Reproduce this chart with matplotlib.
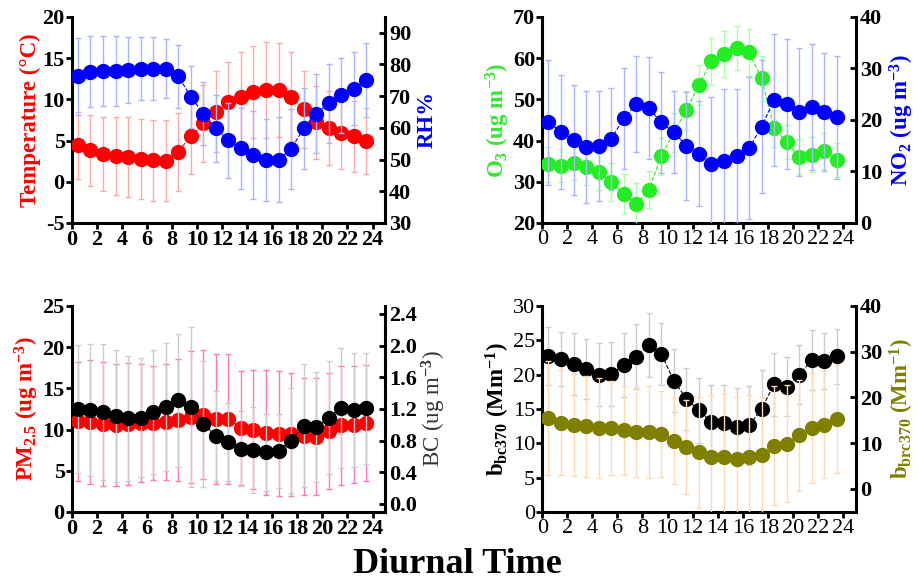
#!/usr/bin/env python3
# -*- coding: utf-8 -*-
"""Diurnal cycles: T/RH, O3/NO2, PM2.5/BC, b_bc370/b_brc370 (4 panels, twin axes)."""

import numpy as np
import matplotlib
matplotlib.use("Agg")
import matplotlib.pyplot as plt
from matplotlib.ticker import MultipleLocator

plt.rcParams["font.family"] = ["Liberation Serif", "DejaVu Serif"]
plt.rcParams["font.weight"] = "bold"
plt.rcParams["axes.labelweight"] = "bold"
plt.rcParams["axes.unicode_minus"] = False
plt.rcParams["mathtext.fontset"] = "custom"
plt.rcParams["mathtext.rm"] = "Liberation Serif:bold"
plt.rcParams["mathtext.it"] = "Liberation Serif:bold"
plt.rcParams["mathtext.bf"] = "Liberation Serif:bold"

# hora (centro del intervalo)
hours = np.arange(24) + 0.5

# --- panel a: temperatura / humedad relativa
temp = [4.4, 3.8, 3.4, 3.1, 3.0, 2.75, 2.6, 2.55, 3.6, 5.6, 7.1, 8.5,
        9.65, 10.3, 10.9, 11.15, 11.1, 10.3, 8.8, 7.2, 6.5, 5.9, 5.5, 4.9]
temp_sd = [4.1, 4.3, 4.5, 4.7, 4.8, 4.9, 4.9, 4.9, 4.7, 4.7, 4.7, 4.9,
           4.9, 5.4, 5.6, 5.8, 5.7, 5.4, 4.7, 4.4, 4.5, 4.4, 4.3, 4.0]
rh = [76.3, 77.7, 77.9, 77.9, 78.2, 78.7, 78.7, 78.7, 76.3, 69.8, 64.5, 59.8,
      56.1, 53.5, 51.4, 49.8, 50.0, 53.3, 59.8, 64.5, 67.7, 70.3, 72.4, 75.1]
rh_sd = [12.2, 11.2, 11.0, 11.0, 10.5, 10.0, 10.0, 9.3, 10.0, 9.7, 10.0, 10.5,
         11.8, 12.7, 13.9, 13.0, 13.5, 12.6, 12.9, 12.5, 12.4, 11.9, 11.4, 11.8]

# --- panel b: O3 / NO2
o3 = [34.2, 33.9, 34.6, 33.5, 32.4, 30.0, 27.0, 24.7, 28.0, 36.2, 42.0, 47.3,
      53.5, 59.2, 61.1, 62.5, 61.4, 55.1, 43.0, 39.6, 36.1, 36.6, 37.5, 35.3]
o3_sd = [4.2, 4.0, 4.2, 4.2, 4.3, 4.6, 4.8, 4.9, 4.5, 4.5, 4.8, 4.8,
         4.9, 5.7, 5.6, 5.4, 5.7, 5.5, 4.5, 4.2, 4.2, 4.2, 4.3, 4.2]
no2 = [19.5, 17.7, 16.1, 14.8, 15.0, 16.3, 20.3, 23.1, 22.3, 19.5, 17.6, 15.0,
       13.4, 11.4, 12.0, 12.9, 14.5, 18.7, 23.9, 23.1, 21.6, 22.5, 21.5, 20.5]
no2_sd = [12.2, 11.1, 10.7, 10.9, 10.7, 9.9, 9.8, 9.4, 9.9, 9.9, 8.0, 10.5,
          10.2, 13.0, 14.0, 13.2, 13.8, 12.9, 12.8, 12.6, 12.4, 12.2, 11.5, 12.0]

# --- panel c: PM2.5 / BC
pm25 = [11.0, 10.9, 10.7, 10.6, 10.7, 10.8, 10.8, 10.9, 11.2, 11.5, 11.8, 11.3,
        11.3, 10.2, 10.0, 9.6, 9.5, 9.4, 9.2, 9.1, 9.8, 10.5, 10.6, 10.8]
pm25_sd = [7.2, 7.5, 7.5, 7.4, 7.4, 7.2, 6.9, 7.0, 7.4, 8.0, 7.8, 7.9,
           7.9, 6.9, 7.2, 7.6, 7.6, 7.5, 7.1, 7.1, 7.0, 7.2, 7.1, 7.0]
bc = [1.20, 1.185, 1.16, 1.11, 1.08, 1.09, 1.16, 1.22, 1.31, 1.23, 1.01, 0.86,
      0.78, 0.70, 0.68, 0.65, 0.67, 0.80, 0.99, 0.97, 1.09, 1.21, 1.185, 1.21]
bc_sd = [0.81, 0.83, 0.86, 0.83, 0.79, 0.75, 0.78, 0.81, 0.84, 1.01, 0.80, 0.57,
         0.49, 0.47, 0.54, 0.49, 0.47, 0.66, 0.78, 0.69, 0.71, 0.76, 0.72, 0.70]

# --- panel d: b_bc370 / b_brc370
bbc = [22.7, 22.3, 21.6, 20.8, 20.0, 20.1, 21.4, 22.6, 24.3, 23.0, 19.1, 16.5,
       14.8, 13.1, 13.0, 12.4, 12.6, 15.0, 18.6, 18.2, 20.0, 22.1, 22.0, 22.7]
bbc_sd = [4.2, 3.9, 4.5, 4.4, 4.6, 4.7, 4.7, 4.7, 4.7, 4.5, 4.6, 4.5,
          4.7, 5.4, 5.5, 5.7, 5.7, 5.7, 4.6, 4.3, 4.3, 4.4, 4.1, 4.0]
bbrc = [15.5, 14.5, 14.0, 13.7, 13.3, 13.3, 12.8, 12.4, 12.4, 12.0, 10.4, 9.1,
        8.0, 7.1, 6.9, 6.5, 7.0, 7.5, 9.5, 9.9, 11.7, 13.3, 14.0, 15.3]
bbrc_sd = [12.4, 11.4, 11.1, 11.1, 11.0, 10.2, 9.8, 9.8, 10.0, 9.4, 9.4, 10.3,
           12.1, 13.5, 13.9, 13.7, 13.6, 12.7, 12.9, 12.8, 12.2, 12.0, 11.7, 11.8]

X_TICKS = np.arange(0, 25, 2)


def serie(ax, y, sd, color, ecolor, zo=2):
    ax.plot(hours, y, "--", color=color, lw=0.8, zorder=zo)
    ax.errorbar(hours, y, yerr=sd, fmt="o", color=color, ms=10, mec=color,
                ecolor=ecolor, elinewidth=1.0, capsize=2.5, capthick=1.0,
                zorder=zo + 1)


def estilo(ax, ax2, xbold=True, lbold=True):
    for a in (ax, ax2):
        a.spines["top"].set_visible(False)
        for s in ("left", "right", "bottom"):
            a.spines[s].set_linewidth(2.2)
    ax.spines["right"].set_visible(False)
    ax2.spines["left"].set_visible(False)
    ax2.spines["bottom"].set_visible(False)
    ax.set_xlim(0, 25)
    ax.set_xticks(X_TICKS)
    ax.tick_params(axis="x", direction="out", width=2.0, length=4, labelsize=16, pad=1)
    ax.tick_params(axis="y", direction="out", width=2.0, length=4, labelsize=16, pad=1)
    ax2.tick_params(axis="y", direction="in", width=2.0, length=4, labelsize=16, pad=3)
    for t in ax.get_xticklabels():
        t.set_fontweight("bold" if xbold else "normal")
    for t in ax.get_yticklabels():
        t.set_fontweight("bold" if lbold else "normal")
    for t in ax2.get_yticklabels():
        t.set_fontweight("bold")


fig = plt.figure(figsize=(9.19, 5.85), dpi=100)
W, H = 0.341, 0.352
pos = {"a": (0.078, 0.619), "b": (0.590, 0.619), "c": (0.078, 0.125), "d": (0.590, 0.125)}
LBL = 16.5

# (a) temperatura / RH
ax = fig.add_axes([*pos["a"], W, H])
ax2 = ax.twinx()
serie(ax, temp, temp_sd, "#ff0000", "#ffaaaa")
serie(ax2, rh, rh_sd, "#0000ff", "#aab4ff")
ax.set_ylim(-5, 20)
ax.yaxis.set_major_locator(MultipleLocator(5))
ax2.set_ylim(30, 95)
ax2.set_yticks(np.arange(30, 91, 10))
estilo(ax, ax2)
ax.set_ylabel("Temperature (°C)", color="#ff0000", fontsize=LBL, labelpad=1)
ax2.set_ylabel("RH%", color="#0000ff", fontsize=LBL, labelpad=4)

# (b) O3 / NO2
ax = fig.add_axes([*pos["b"], W, H])
ax2 = ax.twinx()
serie(ax, o3, o3_sd, "#22ee22", "#aaffaa")
serie(ax2, no2, no2_sd, "#0000ff", "#aab4ff")
ax.set_ylim(20, 70)
ax.yaxis.set_major_locator(MultipleLocator(10))
ax2.set_ylim(0, 40)
ax2.set_yticks(np.arange(0, 41, 10))
estilo(ax, ax2, xbold=False)
ax.set_ylabel(r"O$_3$ (ug m$^{-3}$)", color="#33e833", fontsize=LBL, labelpad=1)
ax2.set_ylabel(r"NO$_2$ (ug m$^{-3}$)", color="#0000ff", fontsize=LBL, labelpad=4)

# (c) PM2.5 / BC
ax = fig.add_axes([*pos["c"], W, H])
ax2 = ax.twinx()
serie(ax, pm25, pm25_sd, "#ff0000", "#ff77bb")
serie(ax2, bc, bc_sd, "#000000", "#cccccc")
ax.set_ylim(0, 25)
ax.yaxis.set_major_locator(MultipleLocator(5))
ax2.set_ylim(-0.1, 2.5)
ax2.set_yticks(np.arange(0, 2.41, 0.4))
ax2.set_yticklabels([f"{v:.1f}" for v in np.arange(0, 2.41, 0.4)])
estilo(ax, ax2)
ax.set_ylabel(r"PM$_{2.5}$ (ug m$^{-3}$)", color="#ff0000", fontsize=LBL, labelpad=1)
ax2.set_ylabel(r"BC (ug m$^{-3}$)", color="#333333", fontsize=LBL,
               fontweight="normal", labelpad=2)

# (d) b_bc370 / b_brc370
ax = fig.add_axes([*pos["d"], W, H])
ax2 = ax.twinx()
serie(ax, bbc, bbc_sd, "#000000", "#cccccc")
serie(ax2, bbrc, bbrc_sd, "#808000", "#ffd9b3")
ax.set_ylim(0, 30)
ax.yaxis.set_major_locator(MultipleLocator(5))
ax2.set_ylim(-5, 40)
ax2.set_yticks(np.arange(0, 41, 10))
estilo(ax, ax2, xbold=False, lbold=False)
ax.set_ylabel(r"b$_{\rm bc370}$ (Mm$^{-1}$)", color="#000000", fontsize=LBL, labelpad=1)
ax2.set_ylabel(r"b$_{\rm brc370}$ (Mm$^{-1}$)", color="#808000", fontsize=LBL, labelpad=4)

fig.text(0.498, 0.035, "Diurnal Time", ha="center", va="center",
         fontsize=26, fontweight="bold")

fig.savefig("out.png", dpi=100)
